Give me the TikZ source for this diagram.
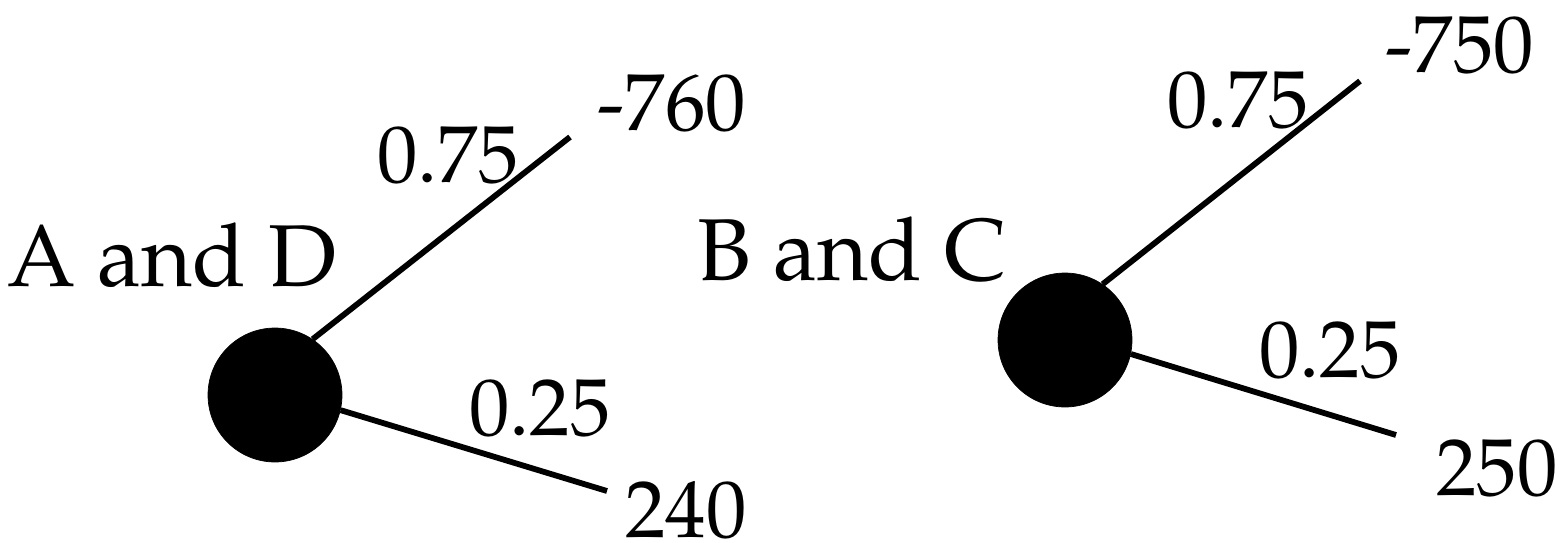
\documentclass[tikz,border=0pt]{standalone}
\usepackage[T1]{fontenc}
\usepackage{mathpazo}
\usetikzlibrary{positioning}

\begin{document}
\begin{tikzpicture}[
  x=0.02cm, y=-0.02cm,
  chance/.style={circle, draw, fill=black, minimum size=2.68cm, inner sep=0pt},
  lbl/.style={inner sep=0pt, font=\fontsize{50}{60}\selectfont},
  num/.style={inner sep=0pt, font=\fontsize{46}{56}\selectfont},
  branch/.style={draw, line width=3.3pt}
]
\useasboundingbox (0,0) rectangle (1565,542);

% left tree
\node[chance] (ad) at (275,395) {};
\coordinate (adup) at (570,137);
\coordinate (adlo) at (607,491);
\draw[branch] (ad.56) -- (adup);
\draw[branch] (ad.-13) -- (adlo);
\node[lbl] (adname) at (172,255) {A and D};
\node[num] (adpup) at (448,155) {0.75};
\node[num] (adplo) at (540,408) {0.25};
\node[num] (advup) at (672,103) {-760};
\node[num] (advlo) at (686,510) {240};

% right tree
\node[chance] (bc) at (1065,340) {};
\coordinate (bcup) at (1360,81);
\coordinate (bclo) at (1396,435);
\draw[branch] (bc.56) -- (bcup);
\draw[branch] (bc.-12) -- (bclo);
\node[lbl] (bcname) at (852,250) {B and C};
\node[num] (bcpup) at (1238,100) {0.75};
\node[num] (bcplo) at (1330,350) {0.25};
\node[num] (bcvup) at (1460,45) {-750};
\node[num] (bcvlo) at (1497,468) {250};
\end{tikzpicture}
\end{document}
